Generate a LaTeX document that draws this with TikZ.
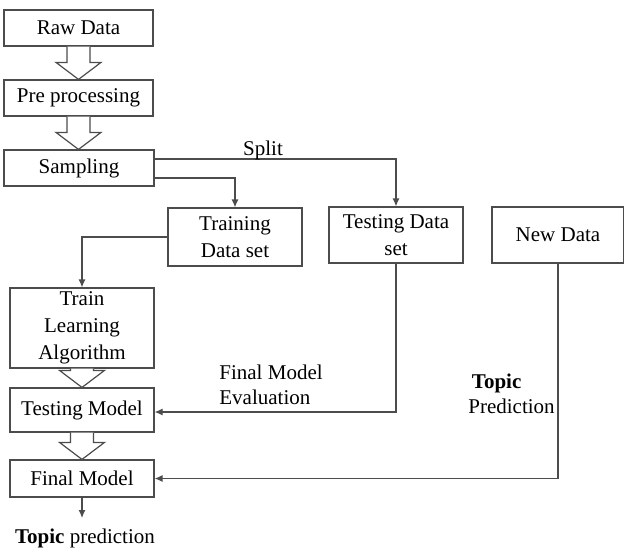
\documentclass[tikz,border=0pt]{standalone}
\usepackage{fontspec}
\setmainfont{Liberation Serif}
\usetikzlibrary{arrows.meta,calc}

\tikzset{
  box/.style={draw=black!70,line width=0.6pt,align=center,inner sep=0pt,
    font=\fontsize{10.5}{13.5}\selectfont},
  link/.style={draw=black!70,line width=0.6pt,-{Latex[length=4pt,width=3.5pt]}},
  hollow/.style={draw=black!70,line width=0.6pt,fill=white},
  lbl/.style={inner sep=0pt,font=\fontsize{10.5}{12.5}\selectfont}
}

% wide white arrow from the bottom of #1 to the top of #2
\newcommand{\hollowarr}[2]{%
  \draw[hollow] let \p1=(#1.south), \p2=(#2.north) in
    (\x1-5.75pt,\y1) -- (\x1-5.75pt,\y2+8.5pt) -- (\x1-11.25pt,\y2+8.5pt)
    -- (\x1,\y2) -- (\x1+11.25pt,\y2+8.5pt) -- (\x1+5.75pt,\y2+8.5pt)
    -- (\x1+5.75pt,\y1);}

\begin{document}
\begin{tikzpicture}[x=0.5pt,y=-0.5pt]

      \useasboundingbox (0,0) rectangle (624,548);

      \begin{scope}[every node/.style={box}]
        \node[minimum width=74.5pt,minimum height=18pt]  (raw)    at (78.5,28)  {Raw Data};
        \node[minimum width=74.5pt,minimum height=18pt]  (pre)    at (78.5,98)  {Pre processing};
        \node[minimum width=75pt,minimum height=18pt]    (samp)   at (79,168)   {Sampling};
        \node[minimum width=67pt,minimum height=29pt]    (trdata) at (235,237)  {Training\\Data set};
        \node[minimum width=67pt,minimum height=28pt]    (tsdata) at (396,235)  {Testing Data\\set};
        \node[minimum width=66pt,minimum height=28pt]    (new)    at (558,235)  {New Data};
        \node[minimum width=72pt,minimum height=40pt]    (algo)   at (82,328)   {Train\\Learning\\Algorithm};
        \node[minimum width=72pt,minimum height=22pt]    (tmodel) at (82,410)   {Testing Model};
        \node[minimum width=72pt,minimum height=18.5pt]  (fmodel) at (82,478.5) {Final Model};
      \end{scope}

      \hollowarr{raw}{pre}
      \hollowarr{pre}{samp}
      \hollowarr{algo}{tmodel}
      \hollowarr{tmodel}{fmodel}

      \coordinate (out) at (82,518);

      \draw[link] ([yshift=4.5pt]samp.east) -| (tsdata.north);
      \draw[link] ([yshift=-5pt]samp.east) -| (trdata.north);
      \draw[link] (trdata.west) -| (algo.north);
      \draw[link] (tsdata.south) |- ([yshift=-1pt]tmodel.east);
      \draw[link] (new.south) |- (fmodel.east);
      \draw[link] (fmodel.south) -- (out);

      \begin{scope}[every node/.style={lbl}]
        \node (split) at (263,150) {Split};
        \node[anchor=west,align=left] (eval) at (219,385) {Final Model\\Evaluation};
        \node[anchor=west,align=left] (pred) at (468,394) {\,\textbf{Topic}\\Prediction};
        \node (topic) at (85,538) {\textbf{Topic} prediction};
      \end{scope}

    \end{tikzpicture}
\end{document}
